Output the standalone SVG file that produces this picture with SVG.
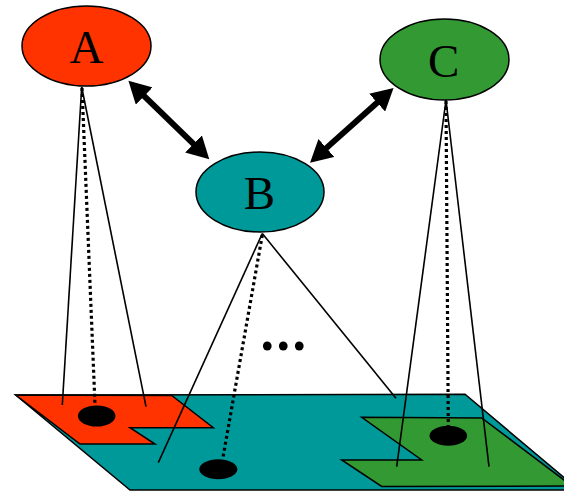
<svg xmlns="http://www.w3.org/2000/svg" width="564" height="492" viewBox="0 0 564 492">
<style>
.plane{stroke:#000;stroke-width:1.5;stroke-linejoin:miter}
.node{stroke:#000;stroke-width:1.5}
.lbl{font-family:"Liberation Serif","Times New Roman",serif;font-size:47px;fill:#000;text-anchor:middle}
.thin{stroke:#000;stroke-width:1.6;fill:none}
.dot{stroke:#000;stroke-width:3.2;stroke-dasharray:3 3;fill:none}
.big{stroke:#000;stroke-width:6;fill:none}
.blob{fill:#000}
</style>
<defs>
<marker id="ah" markerUnits="userSpaceOnUse" markerWidth="24" markerHeight="24" refX="1" refY="12" orient="auto-start-reverse" viewBox="0 0 24 24">
<path d="M0,0 L22,12 L0,24 Z" fill="#000"/>
</marker>
</defs>
<g id="planes">
<polygon id="plane" class="plane" fill="#009999" points="15.7,395 465,394.3 579,490 130,490"/>
<polygon id="regionA" class="plane" fill="#FF3300" points="15.7,395 171.7,395.5 213.3,427.7 130,427.7 155,444 80,444"/>
<polygon id="regionC" class="plane" fill="#339933" points="361.7,417.3 481.7,418 572,486 381.7,486.5 341.7,460 421.7,460"/>
</g>
<g id="spots">
<ellipse class="blob" cx="96.7" cy="416" rx="18.8" ry="10.5"/>
<ellipse class="blob" cx="218.3" cy="469.3" rx="19" ry="10"/>
<ellipse class="blob" cx="448.3" cy="435.7" rx="18.8" ry="10"/>
</g>
<g id="connectors">
<line class="thin" x1="81.7" y1="87" x2="62.3" y2="405"/>
<line class="thin" x1="81.7" y1="87" x2="146" y2="406.7"/>
<line class="dot" x1="82" y1="88" x2="95" y2="405"/>
<line class="thin" x1="262.3" y1="233.5" x2="158.3" y2="462.7"/>
<line class="thin" x1="262.3" y1="233.5" x2="396" y2="398.3"/>
<line class="dot" x1="262.3" y1="235" x2="222.7" y2="459"/>
<line class="thin" x1="446" y1="100" x2="396.7" y2="466.7"/>
<line class="thin" x1="446" y1="100" x2="489" y2="466.7"/>
<line class="dot" x1="446" y1="101" x2="448.3" y2="426"/>
<line class="big" x1="143.47" y1="95.33" x2="194.23" y2="144.67" marker-start="url(#ah)" marker-end="url(#ah)"/>
<line class="big" x1="377.9" y1="101.97" x2="325.7" y2="148.63" marker-start="url(#ah)" marker-end="url(#ah)"/>
</g>
<g id="A">
<ellipse class="node" fill="#FF3300" cx="86.5" cy="46" rx="64.5" ry="40"/>
<text class="lbl" x="86.5" y="63">A</text>
</g>
<g id="B">
<ellipse class="node" fill="#009999" cx="260" cy="192" rx="64" ry="40"/>
<text class="lbl" x="259.5" y="209">B</text>
</g>
<g id="C">
<ellipse class="node" fill="#339933" cx="444.5" cy="59.5" rx="64.5" ry="40.5"/>
<text class="lbl" x="443.7" y="77">C</text>
</g>
<g id="ellipsis">
<text x="260.5" y="350" style="font-family:'Liberation Serif','Times New Roman',serif;font-size:54px;font-weight:bold;letter-spacing:2.5px">...</text>
</g>
</svg>
